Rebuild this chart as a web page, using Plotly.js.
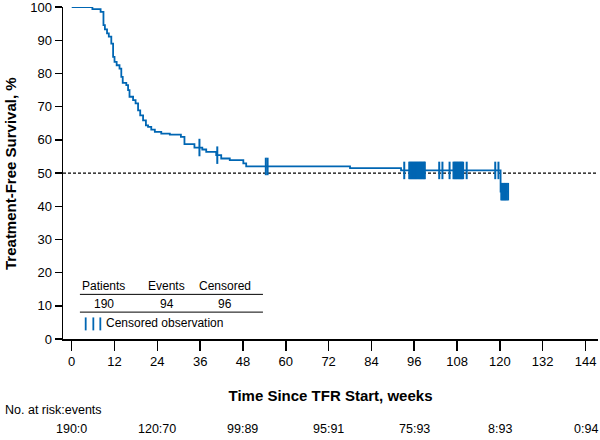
<!DOCTYPE html>
<html>
<head>
<meta charset="utf-8">
<script src="https://cdn.plot.ly/plotly-3.0.1.min.js"></script>
<style>html,body{margin:0;padding:0;background:#fff;}#chart{width:600px;height:440px;}</style>
</head>
<body>
<div id="chart"></div>
<script>
// ---- Data ----
// Kaplan-Meier step points: event times (weeks) and survival (%) after each step
var eventTimes = [0, 5.8, 8.1, 8.9, 9.3, 9.9, 10.4, 11.1, 11.6, 12.0, 12.6, 13.4, 13.9, 14.3, 15.3, 15.8, 16.2, 17.2, 17.9, 18.6, 19.2, 20.0, 20.8, 21.4, 22.3, 23.3, 25.1, 27.5, 30.6, 31.6, 34.4, 36.6, 37.7, 40.5, 41.9, 44.3, 48.1, 48.9, 78.0, 92.3, 120.2];
var survival   = [100, 99.4, 98.6, 94.6, 93.3, 92.1, 91.1, 89.0, 85.0, 83.5, 82.5, 81.5, 79.0, 77.2, 76.5, 75.0, 73.0, 72.0, 71.0, 68.9, 67.4, 65.9, 64.4, 63.9, 63.1, 62.4, 61.9, 61.6, 60.9, 58.7, 57.7, 57.1, 56.4, 55.4, 54.4, 53.9, 52.9, 52.0, 51.5, 50.8, 44.4];
// Censored observation times (weeks)
var censorTimes = [35.8, 40.8, 54.4, 54.9, 93.2,
  94.6, 94.9, 95.2, 95.5, 95.8, 96.1, 96.4, 96.7, 97.0, 97.3, 97.6, 97.9, 98.2, 98.5, 98.8, 98.95,
  103.0, 103.9, 105.9,
  107.0, 107.3, 107.6, 107.9, 108.2, 108.5, 108.8, 109.1, 109.4, 109.7,
  110.7, 118.7, 119.6,
  120.4, 120.7, 121.0, 121.3, 121.6, 121.9, 122.3];
var xTicks = [0, 12, 24, 36, 48, 60, 72, 84, 96, 108, 120, 132, 144];
var yTicks = [0, 10, 20, 30, 40, 50, 60, 70, 80, 90, 100];
var riskWeeks  = [0, 24, 48, 72, 96, 120, 144];
var riskLabels = ["190:0", "120:70", "99:89", "95:91", "75:93", "8:93", "0:94"];
var tableHeaders = ["Patients", "Events", "Censored"];
var tableValues  = ["190", "94", "96"];
var medianLine = 50;

// ---- Derived ----
function survAt(t) {
  var s = survival[0];
  for (var i = 0; i < eventTimes.length; i++) { if (eventTimes[i] <= t) s = survival[i]; }
  return s;
}
var lastT = Math.max.apply(null, censorTimes);
var lineX = eventTimes.concat([lastT]);
var lineY = survival.concat([survAt(lastT)]);
var censorY = censorTimes.map(survAt);

var blue = '#0066b3';
var FONT = '"Liberation Sans", Arial, Helvetica, sans-serif';

var traces = [
  {x: lineX, y: lineY, type: 'scatter', mode: 'lines', line: {shape: 'hv', color: blue, width: 1.8}, hoverinfo: 'skip', cliponaxis: false},
  {x: censorTimes, y: censorY, type: 'scatter', mode: 'markers', cliponaxis: false,
   marker: {symbol: 'line-ns', size: 12.5, color: blue, line: {color: blue, width: 2}}, hoverinfo: 'skip'}
];

// legend table positions (data coordinates)
var colX = [9.0, 26.6, 43.1];
var annotations = [];
tableHeaders.forEach(function (h, i) {
  annotations.push({x: colX[i], y: 15.9, xref: 'x', yref: 'y', text: h, showarrow: false, xanchor: 'center', yanchor: 'middle', font: {size: 12, color: '#000'}});
  annotations.push({x: colX[i], y: 10.4, xref: 'x', yref: 'y', text: tableValues[i], showarrow: false, xanchor: 'center', yanchor: 'middle', font: {size: 12, color: '#000'}});
});
annotations.push({x: 9.1, y: 4.7, xref: 'x', yref: 'y', text: 'Censored observation', showarrow: false, xanchor: 'left', yanchor: 'middle', font: {size: 12, color: '#000'}});
annotations.push({x: -0.112, y: -0.215, xref: 'paper', yref: 'paper', text: 'No. at risk:events', showarrow: false, xanchor: 'left', yanchor: 'middle', font: {size: 12.5, color: '#000'}});
riskWeeks.forEach(function (w, i) {
  annotations.push({x: w, y: -0.2705, xref: 'x', yref: 'paper', text: riskLabels[i], showarrow: false, xanchor: 'center', yanchor: 'middle', font: {size: 12.5, color: '#000'}});
});
// y-axis title placed precisely
annotations.push({x: -0.0991, y: 0.5, xref: 'paper', yref: 'paper', text: '<b>Treatment-Free Survival, %</b>', textangle: -90, showarrow: false, xanchor: 'center', yanchor: 'middle', font: {size: 15, color: '#000', family: FONT}});

var shapes = [
  {type: 'line', xref: 'paper', x0: 0, x1: 1, yref: 'y', y0: medianLine, y1: medianLine, line: {color: '#000', width: 1.3, dash: '3px,2px'}, layer: 'below'},
  {type: 'line', xref: 'x', x0: 2.3, x1: 53.6, yref: 'y', y0: 13.45, y1: 13.45, line: {color: '#000', width: 1}},
  {type: 'line', xref: 'x', x0: 2.3, x1: 53.6, yref: 'y', y0: 8.1, y1: 8.1, line: {color: '#000', width: 1}}
];
[3.92, 6.06, 8.02].forEach(function (xv) {
  shapes.push({type: 'line', xref: 'x', x0: xv, x1: xv, yref: 'y', y0: 2.6, y1: 6.5, line: {color: blue, width: 1.8}});
});

var layout = {
  width: 600, height: 440,
  margin: {l: 63, r: 2, t: 7, b: 101},
  paper_bgcolor: '#fff', plot_bgcolor: '#fff',
  showlegend: false,
  font: {family: FONT, color: '#000', size: 13},
  xaxis: {
    range: [-2.44, 147.5], tickmode: 'array', tickvals: xTicks, ticks: 'outside', ticklen: 10, tickwidth: 1.5, tickcolor: '#000',
    showline: true, linewidth: 1.5, linecolor: '#000', showgrid: false, zeroline: false, ticklabeloverflow: 'allow',
    tickfont: {size: 13, family: FONT},
    title: {text: '<b>Time Since TFR Start, weeks</b>', font: {size: 15, family: FONT}, standoff: 22}
  },
  yaxis: {
    range: [0, 100.05], tickmode: 'array', tickvals: yTicks, ticks: 'outside', ticklen: 7, tickwidth: 1.5, tickcolor: '#000',
    showline: true, linewidth: 1.5, linecolor: '#000', showgrid: false, zeroline: false, ticklabeloverflow: 'allow',
    tickfont: {size: 13, family: FONT}
  },
  annotations: annotations,
  shapes: shapes
};

Plotly.newPlot('chart', traces, layout, {displayModeBar: false, staticPlot: true});
</script>
</body>
</html>
